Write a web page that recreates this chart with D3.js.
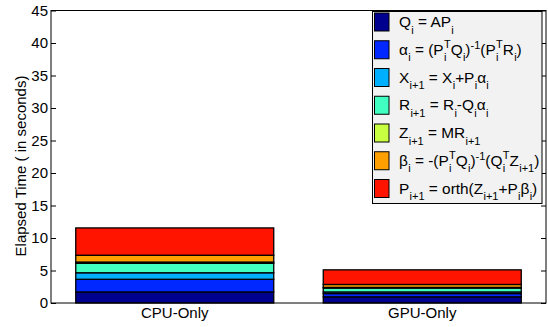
<!DOCTYPE html>
<html><head><meta charset="utf-8">
<script src="https://cdn.jsdelivr.net/npm/d3@7"></script>
<style>body{margin:0;background:#fff}svg{display:block;font-family:"Liberation Sans",Arial,sans-serif}</style>
</head><body><svg id="c" width="548" height="327"></svg>
<script>
const categories = ["CPU-Only", "GPU-Only"];
const stepNames = ["Q", "alpha", "X", "R", "Z", "beta", "P"];
const cpuValues = [1.7, 1.95, 1.0, 1.45, 0.2, 1.05, 4.2];
const gpuValues = [0.95, 0.5, 0.25, 0.6, 0.1, 0.45, 2.25];
const colors = ["#00008f", "#0028ff", "#00b0ff", "#40ffc0", "#c8ff40", "#ffa000", "#ff1400"];
const yTicks = [0, 5, 10, 15, 20, 25, 30, 35, 40, 45];
// legend labels: pieces [text, mode] mode: n normal, b sub, p sup, s sup stacked over previous sub
const legendLabels = [
  [["Q","n"],["i","b"],[" = AP","n"],["i","b"]],
  [["\u03b1","n"],["i","b"],[" = (P","n"],["i","b"],["T","s"],["Q","n"],["i","b"],[")","n"],["-1","p"],["(P","n"],["i","b"],["T","s"],["R","n"],["i","b"],[")","n"]],
  [["X","n"],["i+1","b"],[" = X","n"],["i","b"],["+P","n"],["i","b"],["\u03b1","n"],["i","b"]],
  [["R","n"],["i+1","b"],[" = R","n"],["i","b"],["-Q","n"],["i","b"],["\u03b1","n"],["i","b"]],
  [["Z","n"],["i+1","b"],[" = MR","n"],["i+1","b"]],
  [["\u03b2","n"],["i","b"],[" = -(P","n"],["i","b"],["T","s"],["Q","n"],["i","b"],[")","n"],["-1","p"],["(Q","n"],["i","b"],["T","s"],["Z","n"],["i+1","b"],[")","n"]],
  [["P","n"],["i+1","b"],[" = orth(Z","n"],["i+1","b"],["+P","n"],["i","b"],["\u03b2","n"],["i","b"],[")","n"]]
];

const seriesTable = [cpuValues, gpuValues].map((vals, ci) => {
  const o = {cat: categories[ci]};
  stepNames.forEach((k, i) => o[k] = vals[i]);
  return o;
});

const svg = d3.select("#c");
const m = {l: 51, r: 546, t: 10.5, b: 303};
const x = d3.scaleBand().domain(categories).range([m.l, m.r]).paddingInner(0.2).paddingOuter(0.1);
const y = d3.scaleLinear().domain([0, 45]).range([m.b, m.t]);

const stacked = d3.stack().keys(stepNames)(seriesTable);
svg.append("g").selectAll("g").data(stacked).join("g")
  .attr("fill", (d, i) => colors[i])
  .selectAll("rect").data(d => d).join("rect")
  .attr("x", d => x(d.data.cat))
  .attr("width", x.bandwidth())
  .attr("y", d => y(d[1]))
  .attr("height", d => y(d[0]) - y(d[1]))
  .attr("stroke", "#000").attr("stroke-width", 1.3);

// frame
svg.append("rect").attr("x", m.l).attr("y", m.t).attr("width", m.r - m.l).attr("height", m.b - m.t)
  .attr("fill", "none").attr("stroke", "#000").attr("stroke-width", 1);

const fs = 15;
const yAxis = svg.append("g").attr("transform", `translate(${m.l},0)`)
  .call(d3.axisLeft(y).tickValues(yTicks).tickSize(-5).tickPadding(3).tickFormat(d3.format("d")));
yAxis.select(".domain").remove();
yAxis.selectAll("text").attr("font-size", fs).attr("font-family", "Liberation Sans, Arial").attr("fill", "#000");
const yAxisR = svg.append("g").attr("transform", `translate(${m.r},0)`)
  .call(d3.axisRight(y).tickValues(yTicks).tickSize(-5).tickFormat(""));
yAxisR.select(".domain").remove();

const xAxis = svg.append("g").attr("transform", `translate(0,${m.b})`)
  .call(d3.axisBottom(x).tickSize(0).tickPadding(4));
xAxis.select(".domain").remove();
xAxis.selectAll("text").attr("font-size", fs).attr("font-family", "Liberation Sans, Arial").attr("fill", "#000");

svg.append("text").attr("transform", "translate(26,166) rotate(-90)")
  .attr("text-anchor", "middle").attr("font-size", fs).text("Elapsed Time ( in seconds)");

// legend
const lg = svg.append("g");
lg.append("rect").attr("x", 372.5).attr("y", 11.5).attr("width", 169.5).attr("height", 192)
  .attr("fill", "#f2f2f2").attr("stroke", "#000").attr("stroke-width", 1);
const rowY = d3.scaleLinear().domain([0, 6]).range([13, 179.5]);
legendLabels.forEach((pieces, i) => {
  const top = rowY(i);
  lg.append("rect").attr("x", 374.5).attr("y", top).attr("width", 14.5).attr("height", 18)
    .attr("fill", colors[i]).attr("stroke", "#000").attr("stroke-width", 1);
  const base = top + 14;
  let cx = 399, lastX = 399;
  pieces.forEach(([t, mode]) => {
    const small = mode !== "n";
    let px = cx, py = base;
    if (mode === "b") { px = cx + 0.3; py = base + 6.5; }
    if (mode === "p") py = base - 6;
    if (mode === "s") { px = lastX; py = base - 6.5; }
    const te = lg.append("text").attr("x", px).attr("y", py)
      .attr("font-size", small ? 11 : 15.4).attr("xml:space", "preserve")
      .style("white-space", "pre").text(t);
    const w = te.node().getComputedTextLength();
    if (mode === "s") {
      cx = Math.max(cx, px + w);
    } else {
      lastX = px;
      cx = px + w;
    }
  });
});
</script></body></html>
